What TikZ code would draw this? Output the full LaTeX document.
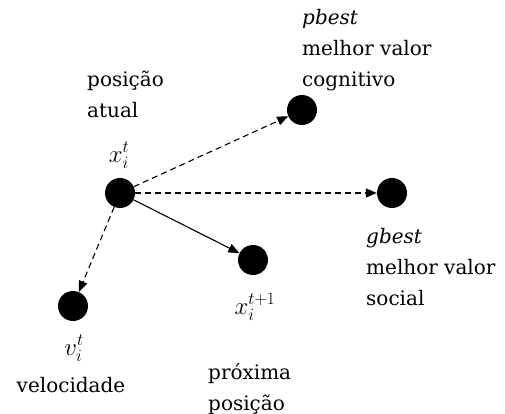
\documentclass[tikz,border=0pt]{standalone}
\usepackage{fontspec}
\setmainfont{DejaVu Serif}
\usetikzlibrary{arrows.meta}
\begin{document}
\begin{tikzpicture}[
    x=1pt, y=-1pt,
    particle/.style={circle, fill=black, minimum size=30pt, inner sep=0pt},
    txt/.style={font=\fontsize{20}{31}\selectfont, inner sep=0pt, align=left},
    sym/.style={font=\fontsize{27}{30}\selectfont, inner sep=0pt},
    move/.style={-{Triangle[length=11pt, width=9pt]}, line width=1.1pt},
    guess/.style={move, dash pattern=on 6pt off 4pt}
]
\useasboundingbox (0,0) rectangle (505,414);

% Particles
\node[particle] (xt) at (120,193) {};
\node[particle] (pb) at (302,110) {};
\node[particle] (gb) at (392,193) {};
\node[particle] (xn) at (253,260) {};
\node[particle] (vt) at (73,306) {};

% Moves
\draw[guess] (xt) -- (pb);
\draw[guess] (xt) -- (gb);
\draw[guess] (xt) -- (vt);
\draw[move] (xt) -- (xn);

% Labels (base = last line)
\node[txt, anchor=base west] (lat) at (87,118) {posição\\atual};
\node[sym, anchor=base] (lxt) at (119,162) {$x_i^t$};
\node[txt, anchor=base west] (lpb) at (302,87) {\textit{pbest}\\melhor valor\\cognitivo};
\node[txt, anchor=base west] (lgb) at (366,305) {\textit{gbest}\\melhor valor\\social};
\node[sym, anchor=base] (lxn) at (255,314) {$x_i^{t+1}$};
\node[sym, anchor=base] (lvt) at (74,355) {$v_i^t$};
\node[txt, anchor=base] (lvel) at (71,392) {velocidade};
\node[txt, anchor=base west] (lpr) at (208,410) {próxima\\posição};

\end{tikzpicture}
\end{document}
